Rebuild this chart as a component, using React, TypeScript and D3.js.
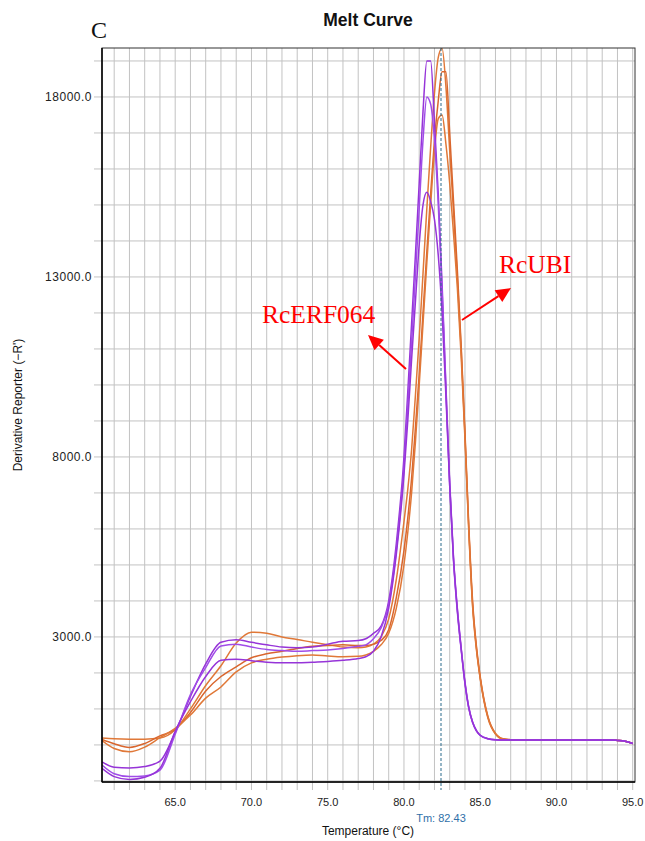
import React from "react";
import * as d3 from "d3";

const temps = [60.2, 61, 62, 63, 64, 65, 66, 67, 68, 69, 70, 71, 72, 73, 74, 75, 76, 77, 77.5, 78, 78.5, 79, 79.5, 80, 80.25, 80.5, 80.75, 81, 81.25, 81.5, 81.75, 82, 82.25, 82.5, 82.75, 83, 83.25, 83.5, 83.75, 84, 84.25, 84.5, 84.75, 85, 85.5, 86, 86.5, 87, 88, 90, 92, 93, 93.5, 94, 94.5, 95];

// RcERF064 (purple)
const erfA = [-470, -620, -640, -600, -450, 350, 1350, 2250, 2850, 2920, 2850, 2780, 2720, 2700, 2720, 2800, 2880, 2900, 2950, 3100, 3300, 4000, 5600, 8000, 9800, 11700, 13600, 15600, 17600, 19000, 19000, 17300, 15300, 12800, 10000, 7300, 5200, 3800, 2700, 1750, 1050, 640, 400, 270, 175, 145, 140, 140, 140, 140, 140, 140, 140, 125, 100, 40];
const erfB = [-560, -800, -880, -860, -700, 300, 1400, 2150, 2750, 2800, 2720, 2650, 2620, 2600, 2620, 2640, 2680, 2740, 2780, 2950, 3250, 3900, 5400, 7700, 9400, 11200, 13000, 14900, 16800, 18000, 17800, 16800, 15000, 12600, 9900, 7200, 5100, 3700, 2650, 1700, 1020, 620, 390, 265, 172, 145, 140, 140, 140, 140, 140, 140, 140, 125, 100, 40];
const erfC = [-650, -880, -960, -900, -650, 380, 1200, 1900, 2350, 2380, 2340, 2300, 2280, 2280, 2300, 2320, 2350, 2400, 2450, 2600, 3000, 3800, 5300, 7500, 9000, 10700, 12300, 13900, 15000, 15350, 15100, 14600, 13600, 12000, 9700, 7200, 5150, 3750, 2680, 1720, 1030, 630, 395, 268, 174, 145, 140, 140, 140, 140, 140, 140, 140, 125, 100, 40];

// RcUBI (orange)
const ubiA = [190, 170, 160, 160, 190, 420, 1000, 1650, 2200, 2830, 3130, 3100, 3000, 2930, 2850, 2780, 2720, 2700, 2720, 2800, 3000, 3500, 4600, 6200, 7100, 8200, 9700, 11300, 13100, 14900, 16600, 18100, 19100, 19350, 18300, 16500, 14800, 13000, 11000, 8600, 6000, 3900, 2700, 1850, 750, 300, 160, 145, 140, 140, 140, 140, 140, 125, 100, 40];
const ubiB = [150, 30, -70, 40, 250, 430, 900, 1500, 1900, 2170, 2420, 2530, 2600, 2680, 2740, 2760, 2780, 2760, 2760, 2800, 2900, 3200, 4100, 5400, 6300, 7400, 8800, 10300, 12000, 13700, 15300, 16800, 17900, 18700, 18700, 17000, 15100, 13200, 11100, 8700, 6100, 4000, 2750, 1900, 800, 320, 170, 145, 140, 140, 140, 140, 140, 125, 100, 40];
const ubiC = [120, -100, -190, -60, 200, 460, 830, 1300, 1610, 2030, 2280, 2380, 2440, 2480, 2500, 2470, 2450, 2460, 2500, 2600, 2780, 3100, 3800, 5000, 5900, 7000, 8400, 10000, 11700, 13400, 15000, 16500, 17400, 17500, 16700, 15600, 14200, 12700, 10800, 8500, 5950, 3850, 2650, 1850, 780, 310, 165, 145, 140, 140, 140, 140, 140, 125, 100, 40];

const yTickLabels = [3000, 8000, 13000, 18000];
const xTickLabels = [65, 70, 75, 80, 85, 90, 95];
const tmValue = 82.43;

const erfSeries = [erfA, erfB, erfC];
const ubiSeries = [ubiA, ubiB, ubiC];

const L = 102, R = 635, T = 48, B = 782;

export default function App() {
  const x = d3.scaleLinear().domain([60.2, 95.15]).range([L, R]);
  const y = d3.scaleLinear().domain([-1030, 19360]).range([B, T]);
  const line = d3
    .line<[number, number]>()
    .x((d) => x(d[0]))
    .y((d) => y(d[1]))
    .curve(d3.curveMonotoneX);
  const toPts = (vals: number[]) => temps.map((t, i) => [t, vals[i]] as [number, number]);

  const vGrid = d3.range(61, 96, 1);
  const hGrid = d3.range(-1000, 19001, 1000);
  const fmt = d3.format(".1f");
  const axisFont = "Arial, 'Liberation Sans', sans-serif";
  const serif = "'Liberation Serif', 'Times New Roman', serif";

  const arrow = (x1: number, y1: number, x2: number, y2: number, key: string) => {
    const ang = Math.atan2(y2 - y1, x2 - x1);
    const hl = 15, hw = 7;
    const bx = x2 - hl * Math.cos(ang), by = y2 - hl * Math.sin(ang);
    const px = -Math.sin(ang) * hw, py = Math.cos(ang) * hw;
    return (
      <g key={key}>
        <line x1={x1} y1={y1} x2={bx} y2={by} stroke="#ff0000" strokeWidth={2} />
        <polygon points={`${x2},${y2} ${bx + px},${by + py} ${bx - px},${by - py}`} fill="#ff0000" />
      </g>
    );
  };

  return (
    <svg width={645} height={841} style={{ position: "absolute", left: 0, top: 0, background: "#fff" }}>
      <defs>
        <clipPath id="plotclip">
          <rect x={L} y={T} width={R - L} height={B - T} />
        </clipPath>
      </defs>
      <rect x={0} y={0} width={645} height={841} fill="#fff" />
      {vGrid.map((t) => (
        <line key={"v" + t} x1={x(t)} x2={x(t)} y1={T} y2={B + 8} stroke="#c2c2c2" strokeWidth={1} />
      ))}
      {hGrid.map((v) => (
        <line key={"h" + v} x1={L - 8} x2={R} y1={y(v)} y2={y(v)} stroke="#c2c2c2" strokeWidth={1} />
      ))}
      <g clipPath="url(#plotclip)" fill="none" strokeWidth={1.5}>
        {ubiSeries.map((s, i) => (
          <path key={"u" + i} d={line(toPts(s)) || ""} stroke={i === 1 ? "#d9662e" : "#e07838"} />
        ))}
        {erfSeries.map((s, i) => (
          <path key={"e" + i} d={line(toPts(s)) || ""} stroke={i === 1 ? "#a04ce8" : "#9634d8"} />
        ))}
      </g>
      <line x1={x(tmValue)} x2={x(tmValue)} y1={T} y2={B + 8} stroke="#2a6a8c" strokeWidth={1} strokeDasharray="3,2" />
      <rect x={L} y={T} width={R - L} height={B - T} fill="none" stroke="#333" strokeWidth={1} />
      <line x1={L} x2={L} y1={T} y2={B} stroke="#000" strokeWidth={1.5} />
      <line x1={L} x2={R} y1={B} y2={B} stroke="#000" strokeWidth={1.5} />
      {yTickLabels.map((v) => (
        <text key={"yl" + v} x={L - 10} y={y(v) + 4} textAnchor="end" fontSize={12} letterSpacing={0.5} fontFamily={axisFont} fill="#222">
          {fmt(v)}
        </text>
      ))}
      {xTickLabels.map((t) => (
        <text key={"xl" + t} x={x(t)} y={806} textAnchor="middle" fontSize={11} fontFamily={axisFont} fill="#222">
          {fmt(t)}
        </text>
      ))}
      <text x={x(tmValue)} y={822} textAnchor="middle" fontSize={11} fontFamily={axisFont} fill="#2f6fa8">
        {"Tm: " + tmValue.toFixed(2)}
      </text>
      <text x={368} y={835} textAnchor="middle" fontSize={12} fontFamily={axisFont} fill="#111">
        Temperature (°C)
      </text>
      <text transform="translate(22,405) rotate(-90)" textAnchor="middle" fontSize={12} fontFamily={axisFont} fill="#111">
        Derivative Reporter (−R')
      </text>
      <text x={368} y={26} textAnchor="middle" fontSize={17.5} fontWeight="bold" fontFamily={axisFont} fill="#111">
        Melt Curve
      </text>
      <text x={91} y={38} fontSize={24} fontFamily={serif} fill="#111">
        C
      </text>
      <text x={262} y={323} fontSize={25.5} fontFamily={serif} fill="#ff0000">
        RcERF064
      </text>
      <text x={499} y={273} fontSize={25.5} fontFamily={serif} fill="#ff0000">
        RcUBI
      </text>
      {arrow(406, 369, 368, 335, "a1")}
      {arrow(462, 320, 511, 288, "a2")}
    </svg>
  );
}
